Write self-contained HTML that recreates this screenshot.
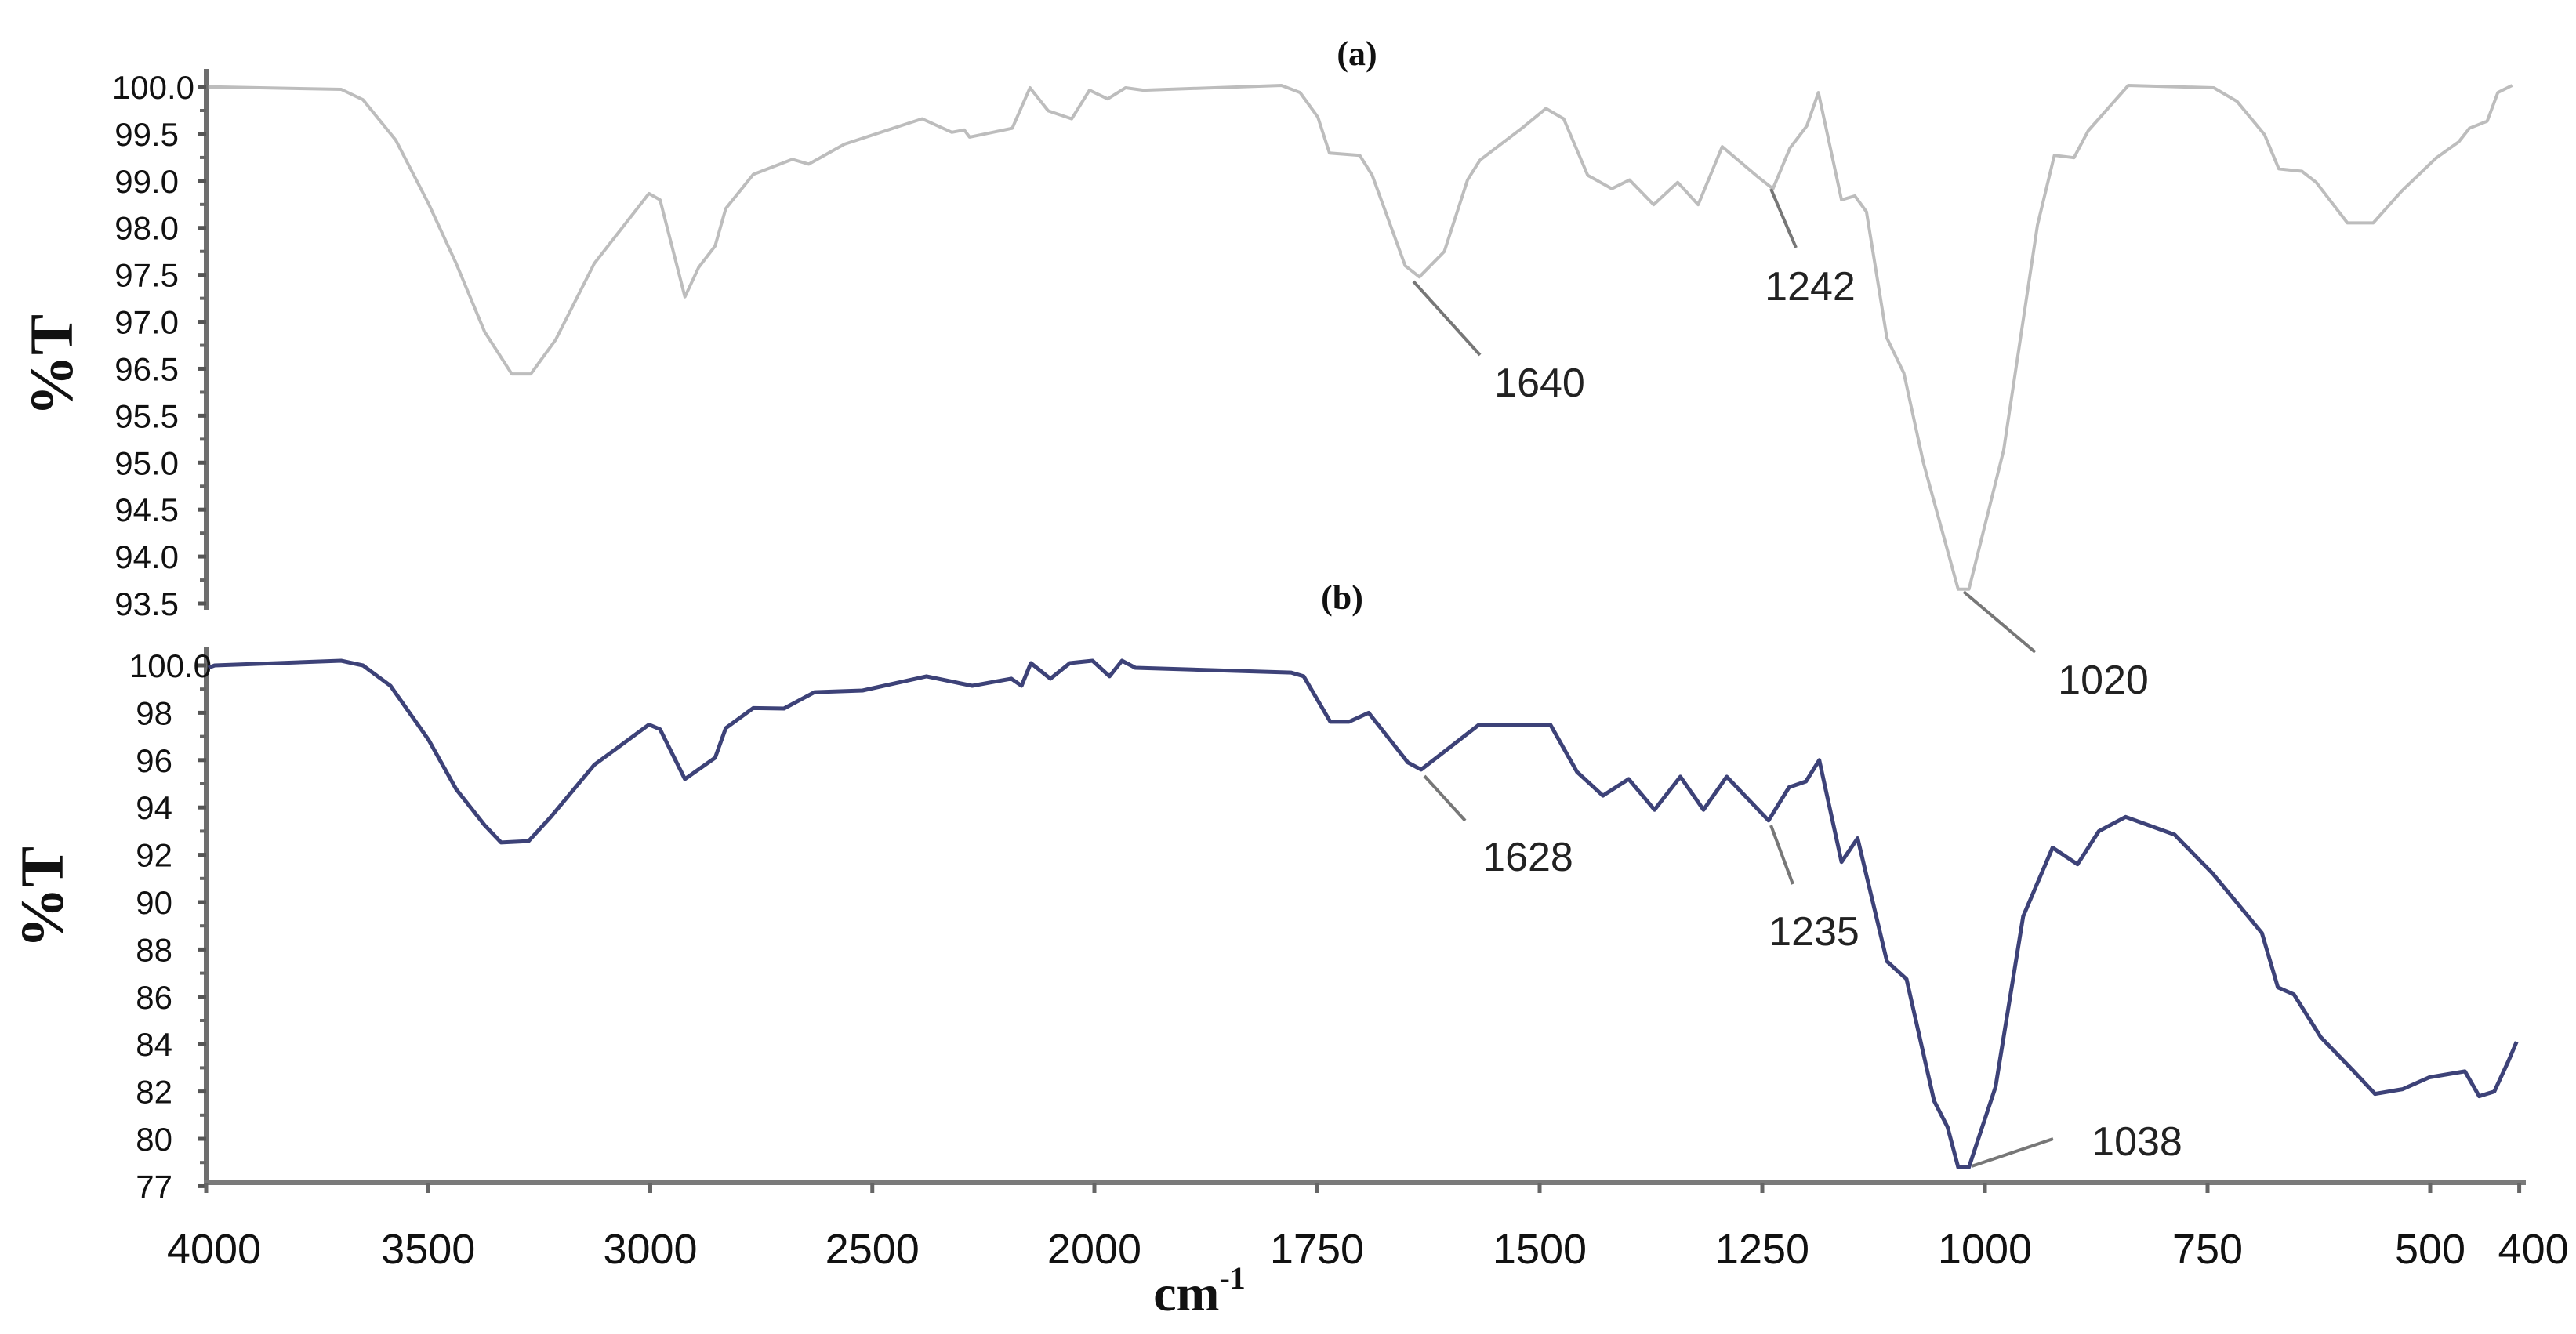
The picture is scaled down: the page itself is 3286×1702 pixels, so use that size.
<!DOCTYPE html>
<html><head><meta charset="utf-8">
<style>
html,body{margin:0;padding:0;background:#fff;}
svg{display:block;}
.yl{font-family:"Liberation Sans Narrow","Liberation Sans",sans-serif;font-size:42px;fill:#111;}
.xl{font-family:"Liberation Sans Narrow","Liberation Sans",sans-serif;font-size:54px;fill:#111;}
.an{font-family:"Liberation Sans Narrow","Liberation Sans",sans-serif;font-size:52px;fill:#222;}
.serif{font-family:"Liberation Serif",serif;font-weight:bold;fill:#111;}
</style></head>
<body>
<svg id="chart" width="3286" height="1702" viewBox="0 0 3286 1702">
<g id="layer"></g>
</svg>
<script>
// Tick labels
const xTicks = [4000,3500,3000,2500,2000,1750,1500,1250,1000,750,500,400];
const topYTickLabels = ["100.0","99.5","99.0","98.0","97.5","97.0","96.5","95.5","95.0","94.5","94.0","93.5"];
const botYTicks = [100,98,96,94,92,90,88,86,84,82,80,78];
const botYTickLabels = ["100.0","98","96","94","92","90","88","86","84","82","80","77"];
// Series (a): wavenumber / %T
const aWave = [3995,3968,3696,3647,3573,3499,3437,3373,3312,3269,3213,3126,3003,2978,2922,2891,2854,2830,2768,2680,2643,2563,2388,2321,2293,2281,2185,2145,2104,2051,2011,1985,1965,1945,1790,1769,1749,1736,1702,1688,1675,1651,1635,1607,1581,1567,1520,1493,1473,1446,1419,1399,1372,1345,1322,1295,1254,1238,1219,1200,1187,1161,1146,1133,1110,1091,1069,1030,1018,979,941,922,900,884,839,743,717,686,670,644,628,593,564,532,493,468,456,436,424,408];
const aT = [100.0,100.0,99.97,99.84,99.33,98.53,97.78,96.92,96.39,96.39,96.82,97.78,98.66,98.58,97.36,97.73,98.0,98.47,98.9,99.09,99.03,99.28,99.6,99.43,99.46,99.37,99.48,99.99,99.7,99.6,99.96,99.85,99.99,99.96,100.02,99.93,99.62,99.17,99.14,98.89,98.49,97.75,97.61,97.93,98.83,99.08,99.48,99.73,99.6,98.89,98.72,98.83,98.52,98.8,98.52,99.25,98.86,98.72,99.23,99.51,99.93,98.58,98.63,98.43,96.84,96.4,95.27,93.68,93.68,95.43,98.26,99.14,99.11,99.45,100.02,99.99,99.82,99.4,98.97,98.94,98.8,98.29,98.29,98.69,99.11,99.31,99.48,99.57,99.93,100.02];
// Series (b)
const bWave = [3995,3981,3696,3647,3585,3499,3437,3373,3336,3274,3224,3126,3003,2978,2922,2854,2830,2768,2699,2630,2522,2378,2275,2187,2164,2143,2099,2055,2004,1983,1969,1954,1779,1765,1735,1714,1692,1648,1633,1568,1488,1458,1429,1400,1371,1342,1316,1290,1243,1220,1201,1186,1161,1143,1110,1088,1057,1042,1030,1018,988,957,924,896,872,842,787,744,689,671,653,623,587,562,531,501,461,445,428,412,403];
const bT = [99.9,100.0,100.2,100.0,99.14,96.85,94.77,93.25,92.52,92.58,93.6,95.8,97.5,97.3,95.2,96.1,97.35,98.2,98.18,98.87,98.94,99.54,99.14,99.44,99.14,100.1,99.44,100.1,100.2,99.54,100.2,99.9,99.7,99.54,97.62,97.62,98.0,95.9,95.6,97.5,97.5,95.5,94.5,95.2,93.9,95.3,93.9,95.3,93.45,94.85,95.1,96.0,91.7,92.7,87.5,86.75,81.6,80.5,78.8,78.8,82.2,89.4,92.3,91.6,93.0,93.6,92.85,91.2,88.7,86.4,86.1,84.3,82.9,81.9,82.1,82.6,82.85,81.8,82.0,83.3,84.1];

function X(w){ return w>=2000 ? 1396-(w-2000)*0.5665 : 1396+(2000-w)*1.136; }
function YA(v){ return 111+(100-v)*101.4; }
function YB(v){ return 849+(100-v)*30.2; }
function YAlabel(i){ return 111+i*(659/11); }

const NS="http://www.w3.org/2000/svg";
const L=document.getElementById('layer');
function mk(tag,attrs,parent){const e=document.createElementNS(NS,tag);for(const k in attrs)e.setAttribute(k,attrs[k]);(parent||L).appendChild(e);return e;}

// top y axis
let e=mk('line',{x1:263,y1:88,x2:263,y2:778,stroke:'#6e6e6e','stroke-width':6});


topYTickLabels.forEach((s,i)=>{
  const y=YAlabel(i);
  const t=mk('line',{x1:252,y1:y,x2:263,y2:y,stroke:'#555','stroke-width':5});
  
  
  if(i<topYTickLabels.length-1){
    const m=mk('line',{x1:255,y1:y+30,x2:263,y2:y+30,stroke:'#666','stroke-width':4});
    
    
  }
  const tx=mk('text',{x:i==0?248:228,y:y+15,'text-anchor':'end',class:'yl'});
  tx.textContent=s;
  
  
});
// bottom axes
e=mk('line',{x1:263,y1:825,x2:263,y2:1512,stroke:'#6e6e6e','stroke-width':6});


e=mk('line',{x1:260,y1:1509,x2:3222,y2:1509,stroke:'#7a7a7a','stroke-width':6});


botYTicks.forEach((v,i)=>{
  const t=mk('line',{x1:252,y1:YB(v),x2:263,y2:YB(v),stroke:'#555','stroke-width':5});
  
  
  if(i<botYTicks.length-1){
    const m=mk('line',{x1:255,y1:YB(v-1),x2:263,y2:YB(v-1),stroke:'#666','stroke-width':4});
    
    
  }
  const tx=mk('text',{x:i==0?270:220,y:YB(v)+15,'text-anchor':'end',class:'yl'});
  tx.textContent=botYTickLabels[i];
  
  
});
xTicks.forEach(w=>{
  const t=mk('line',{x1:X(w),y1:1509,x2:X(w),y2:1522,stroke:'#666','stroke-width':5});
  
  
  const tx=mk('text',{x:X(w)+(w==4000?10:w==400?18:0),y:1612,'text-anchor':'middle',class:'xl'});
  tx.textContent=String(w);
  
  
});
// series
function pathD(ws,vs,Y){return ws.map((w,i)=>(i?'L':'M')+X(w).toFixed(1)+','+Y(vs[i]).toFixed(1)).join(' ');}
e=mk('path',{d:pathD(aWave,aT,YA),fill:'none',stroke:'#bdbdbd','stroke-width':4,'stroke-linejoin':'round'});


e=mk('path',{d:pathD(bWave,bT,YB),fill:'none',stroke:'#3d4278','stroke-width':5,'stroke-linejoin':'round'});


</script>
<script>
// static labels and annotations
(function(){
const NS="http://www.w3.org/2000/svg";
const L=document.getElementById('layer');
function txt(s,attrs,name){const t=document.createElementNS(NS,'text');for(const k in attrs)t.setAttribute(k,attrs[k]);t.textContent=s;


L.appendChild(t);return t;}
function ln(x1,y1,x2,y2,name){const l=document.createElementNS(NS,'line');l.setAttribute('x1',x1);l.setAttribute('y1',y1);l.setAttribute('x2',x2);l.setAttribute('y2',y2);l.setAttribute('stroke','#777');l.setAttribute('stroke-width',4);


L.appendChild(l);}
txt('(a)',{x:1731,y:83,'text-anchor':'middle',class:'serif','font-size':44},'panel-a-label');
txt('(b)',{x:1712,y:777,'text-anchor':'middle',class:'serif','font-size':44},'panel-b-label');
txt('%T',{x:0,y:0,'text-anchor':'middle',class:'serif','font-size':78,transform:'translate(92,466) rotate(-90)'},'top-y-axis-title');
txt('%T',{x:0,y:0,'text-anchor':'middle',class:'serif','font-size':78,transform:'translate(80,1145) rotate(-90)'},'bottom-y-axis-title');
const c=txt('cm',{x:1530,y:1672,'text-anchor':'middle',class:'serif','font-size':66,'font-weight':'normal'},'x-axis-title');
const s=document.createElementNS(NS,'tspan');s.setAttribute('dy','-28');s.setAttribute('font-size','40');s.textContent='-1';c.appendChild(s);
ln(1803,359,1888,453,'leader-1640');
txt('1640',{x:1964,y:506,'text-anchor':'middle',class:'an'},'annotation-1640');
ln(2259,241,2291,316,'leader-1242');
txt('1242',{x:2309,y:383,'text-anchor':'middle',class:'an'},'annotation-1242');
ln(2505,755,2596,832,'leader-1020');
txt('1020',{x:2683,y:885,'text-anchor':'middle',class:'an'},'annotation-1020');
ln(1817,990,1869,1047,'leader-1628');
txt('1628',{x:1949,y:1111,'text-anchor':'middle',class:'an'},'annotation-1628');
ln(2259,1053,2287,1128,'leader-1235');
txt('1235',{x:2314,y:1206,'text-anchor':'middle',class:'an'},'annotation-1235');
ln(2515,1488,2619,1453,'leader-1038');
txt('1038',{x:2726,y:1474,'text-anchor':'middle',class:'an'},'annotation-1038');
})();
</script>
</body></html>
